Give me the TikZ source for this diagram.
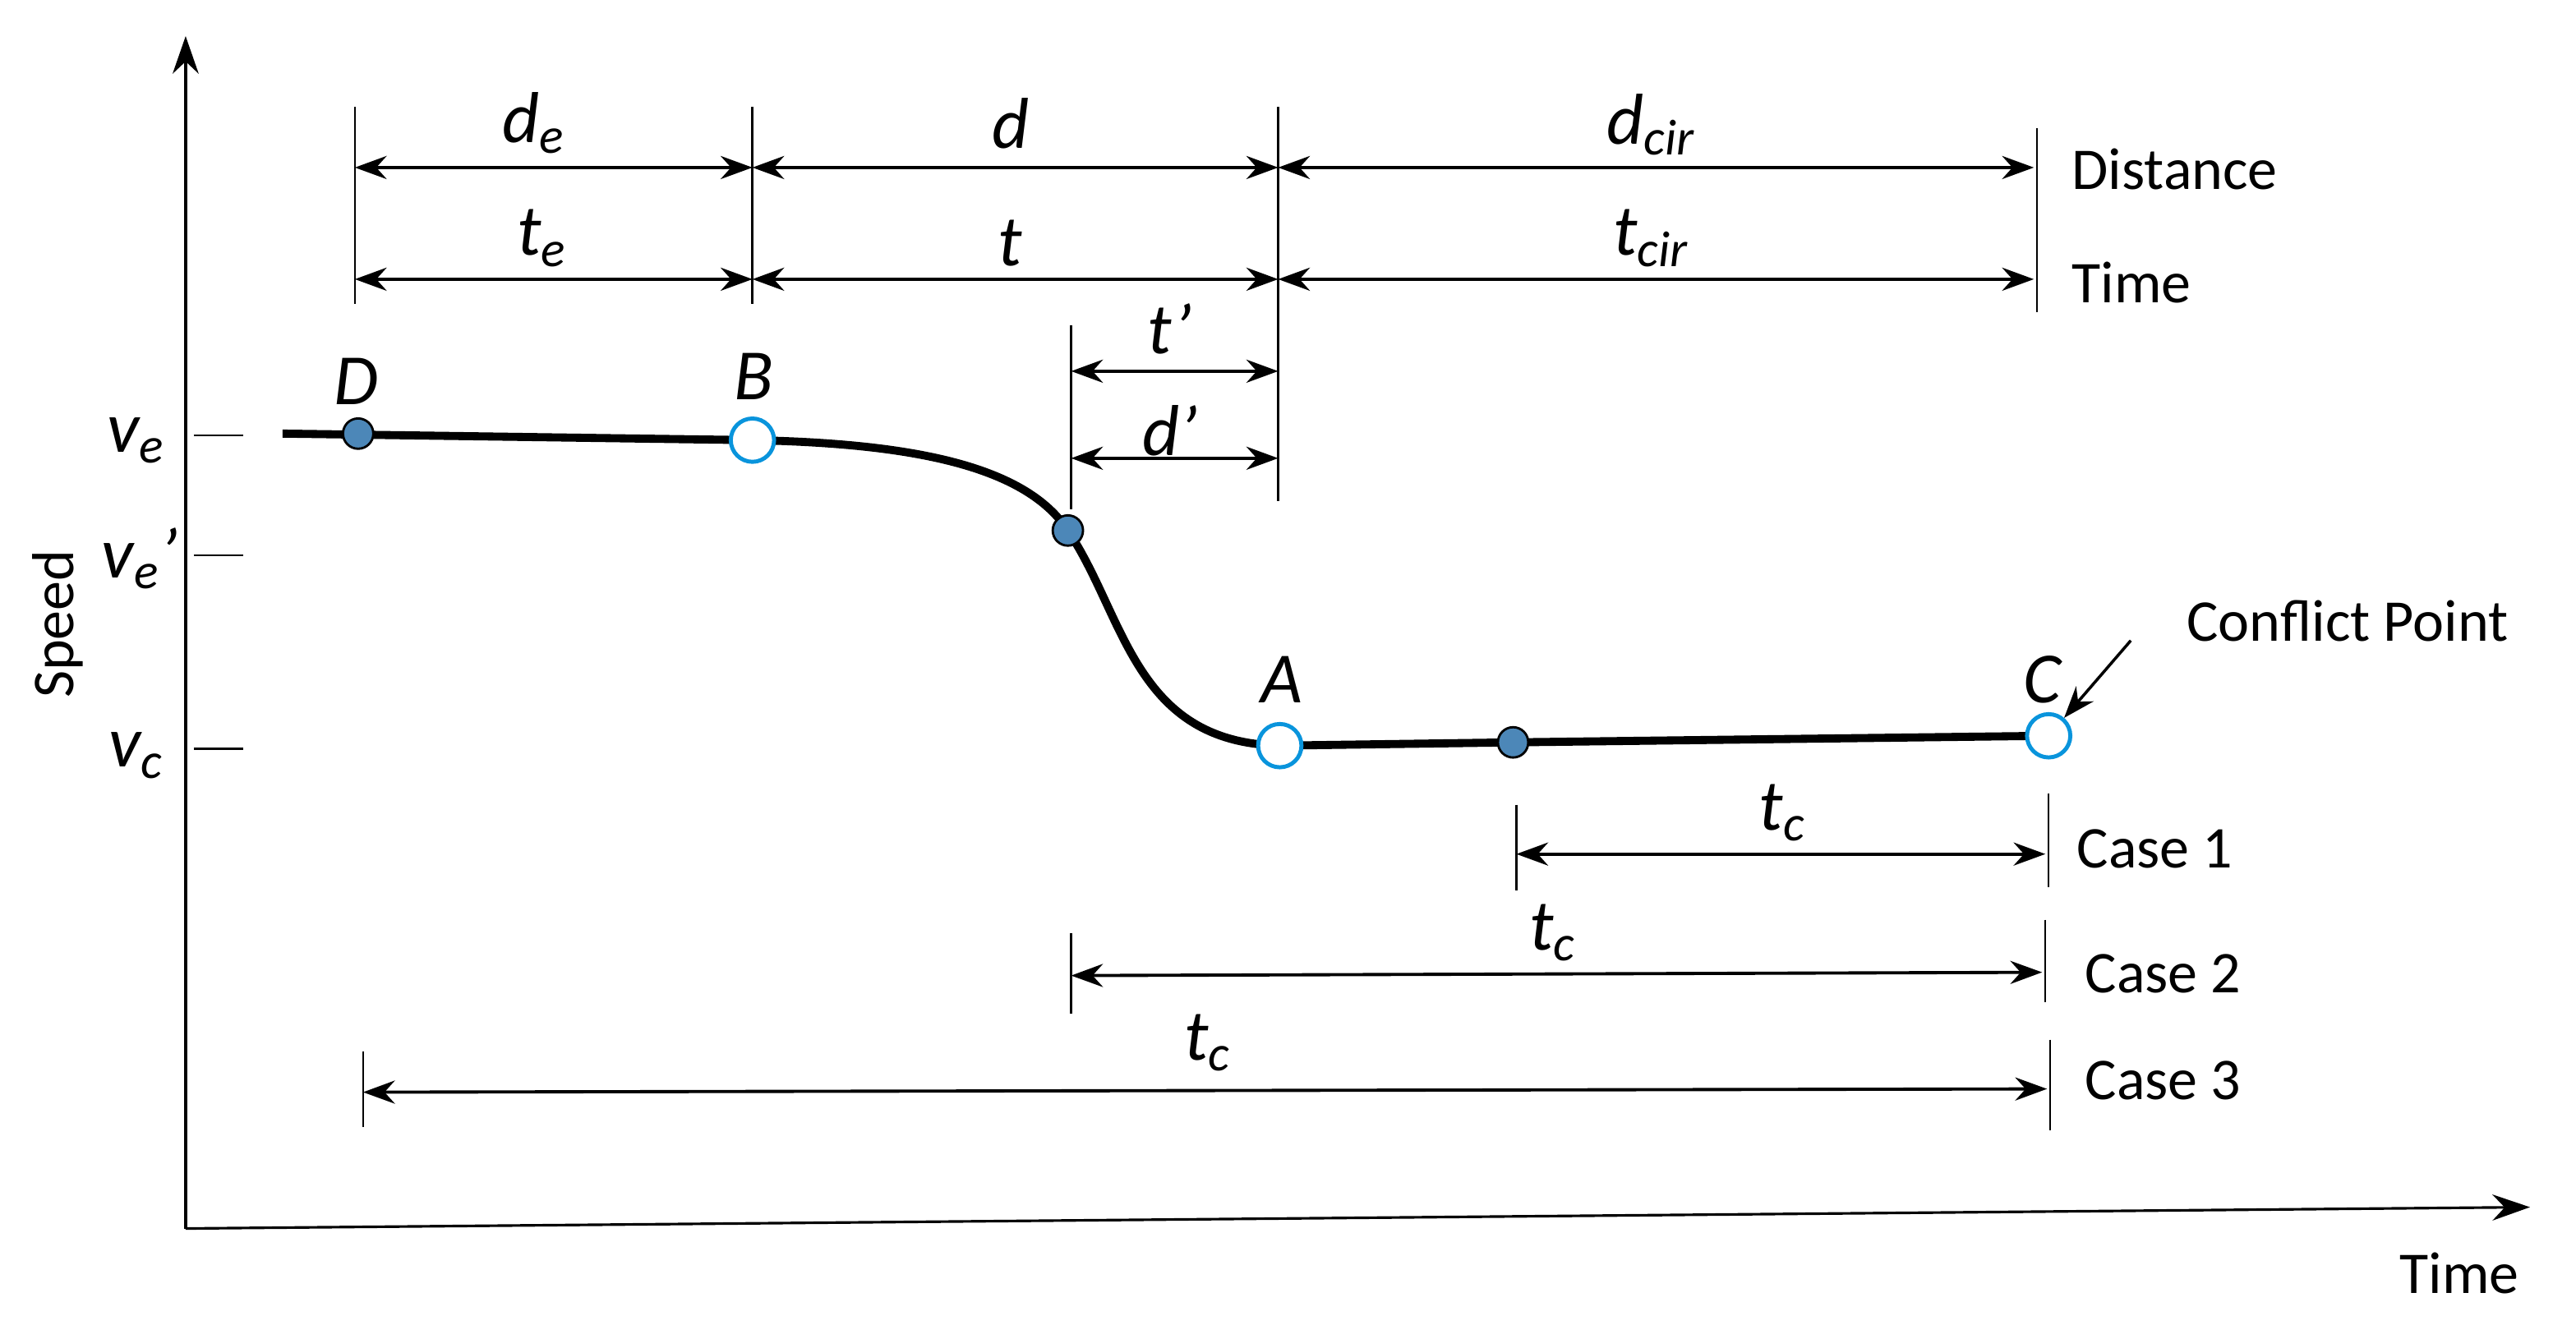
\documentclass[tikz,border=0pt]{standalone}
\usepackage{fontspec}
\setmainfont{Carlito}
\usetikzlibrary{arrows.meta}
\begin{document}
\begin{tikzpicture}[x=0.2mm,y=-0.2mm,
  dim/.style={line width=1.1pt,{Stealth[length=11pt,width=8pt]}-{Stealth[length=11pt,width=8pt]}},
  tk/.style={line width=0.7pt},
  lbl/.style={font=\fontsize{25}{29}\selectfont\itshape},
  txt/.style={font=\fontsize{20.5}{24}\selectfont,anchor=west},
  fpt/.style={circle,draw=black,line width=0.8pt,fill=blue!45!cyan!60!black!70,minimum size=10.5pt,inner sep=0pt},
  opt/.style={circle,draw=cyan!80!blue,line width=1.4pt,fill=white,minimum size=15pt,inner sep=0pt}]
\useasboundingbox (0,0) rectangle (1568,806.5);
% axes
\coordinate (O) at (113,748);
\coordinate (Yt) at (113,22);
\coordinate (Xt) at (1540,735);
\draw[line width=0.9pt,-{Stealth[length=13pt,width=9pt]}] (O) -- (Yt);
\draw[line width=0.9pt,-{Stealth[length=13pt,width=9pt]}] (O) -- (Xt);
\node[rotate=90,font=\fontsize{20.5}{24}\selectfont] (spd) at (35,380) {Speed};
\node[font=\fontsize{20.5}{24}\selectfont] (tim) at (1497,775) {Time};
% speed ticks
\foreach \y/\n in {265/a,338/b,456/c}{\draw[tk] (118,\y) -- (148,\y);}
\node[lbl] (ve) at (83,268) {v\textsubscript{e}};
\node[lbl] (vep) at (85,340) {v\textsubscript{e}’};
\node[lbl] (vc) at (83,460) {v\textsubscript{c}};
% curve
\draw[line width=2.8pt] (172,264) -- (458,268) .. controls (560,270) and (625,285) .. (650,323)
  .. controls (685,375) and (690,452) .. (779,454) -- (921,452) -- (1247,448);
\node[fpt] (D) at (218,264) {};
\node[opt] (B) at (458,268) {};
\node[fpt] (P) at (650,323) {};
\node[opt] (A) at (779,454) {};
\node[fpt] (Q) at (921,452) {};
\node[opt] (C) at (1247,448) {};
\node[lbl] (lD) at (217,232) {D};
\node[lbl] (lB) at (459,229) {B};
\node[lbl] (lA) at (780,414) {A};
\node[lbl] (lC) at (1243,414) {C};
% vertical guides
\draw[tk] (216,65) -- (216,185);
\draw[tk] (458,65) -- (458,185);
\draw[tk] (778,65) -- (778,305);
\draw[tk] (1240,78) -- (1240,190);
\draw[tk] (652,198) -- (652,310);
% distance row
\coordinate (d1) at (216,102); \coordinate (d2) at (458,102);
\coordinate (d3) at (778,102); \coordinate (d4) at (1238,102);
\draw[dim] (d1) -- (d2); \draw[dim] (d2) -- (d3); \draw[dim] (d3) -- (d4);
\node[lbl] (lde) at (325,75) {d\textsubscript{e}};
\node[lbl] (ld) at (615,75) {d};
\node[lbl] (ldc) at (1005,76) {d\textsubscript{cir}};
\node[txt] (dist) at (1255,103) {Distance};
% time row
\coordinate (t1) at (216,170); \coordinate (t2) at (458,170);
\coordinate (t3) at (778,170); \coordinate (t4) at (1238,170);
\draw[dim] (t1) -- (t2); \draw[dim] (t2) -- (t3); \draw[dim] (t3) -- (t4);
\node[lbl] (lte) at (330,145) {t\textsubscript{e}};
\node[lbl] (lt) at (615,148) {t};
\node[lbl] (ltc) at (1005,145) {t\textsubscript{cir}};
\node[txt] (time2) at (1255,172) {Time};
% t', d'
\coordinate (p1) at (652,226); \coordinate (p2) at (778,226);
\coordinate (q1) at (652,279); \coordinate (q2) at (778,279);
\draw[dim] (p1) -- (p2); \draw[dim] (q1) -- (q2);
\node[lbl] (ltp) at (712,200) {t’};
\node[lbl] (ldp) at (712,262) {d’};
% conflict point
\node[txt] (cp) at (1325,378) {Conflict Point};
\coordinate (cpa) at (1297,390);
\draw[line width=1pt,-{Stealth[length=11pt,width=8pt]}] (cpa) -- (C);
% cases
\draw[tk] (923,490) -- (923,542); \draw[tk] (1247,483) -- (1247,540);
\draw[tk] (652,568) -- (652,617); \draw[tk] (1245,560) -- (1245,610);
\draw[tk] (221,640) -- (221,686); \draw[tk] (1248,633) -- (1248,688);
\coordinate (c1a) at (923,520); \coordinate (c1b) at (1245,520);
\coordinate (c2a) at (652,594); \coordinate (c2b) at (1243,592);
\coordinate (c3a) at (221,665); \coordinate (c3b) at (1246,663);
\draw[dim] (c1a) -- (c1b); \draw[dim] (c2a) -- (c2b); \draw[dim] (c3a) -- (c3b);
\node[lbl] (tc1) at (1085,495) {t\textsubscript{c}};
\node[lbl] (tc2) at (945,568) {t\textsubscript{c}};
\node[lbl] (tc3) at (735,635) {t\textsubscript{c}};
\node[txt] (cs1) at (1258,517) {Case 1};
\node[txt] (cs2) at (1263,593) {Case 2};
\node[txt] (cs3) at (1263,658) {Case 3};
\end{tikzpicture}
\end{document}
